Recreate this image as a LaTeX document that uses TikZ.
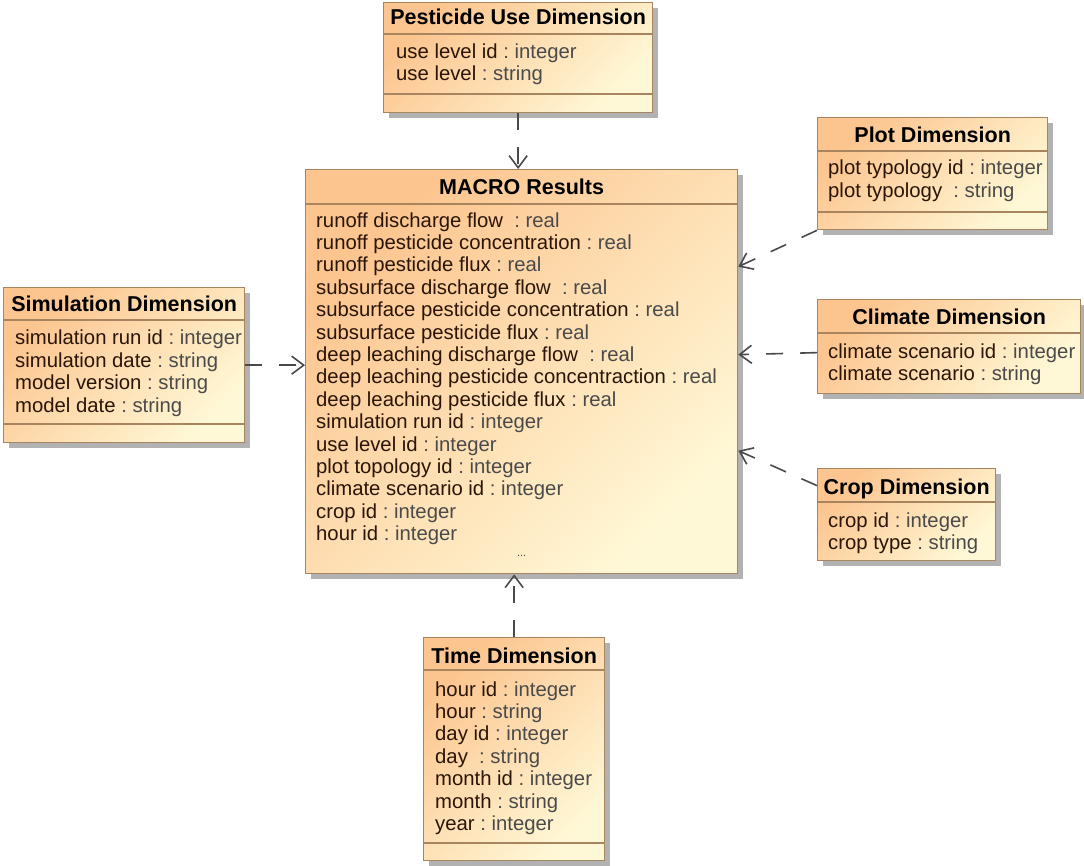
\documentclass[tikz,border=0pt]{standalone}
\usepackage{fontspec}
\setmainfont{Liberation Sans}
\usepackage{xcolor}
\usepackage{tikz}
\usetikzlibrary{positioning, arrows.meta, calc, shadows}

\definecolor{clsorange}{HTML}{FCC48E}
\definecolor{clspale}{HTML}{FFF8D6}
\definecolor{clsline}{HTML}{A8845F}
\definecolor{attrname}{HTML}{2A1508}
\definecolor{attrtype}{HTML}{4A4A4A}
\definecolor{linkgray}{HTML}{4A4A4A}

\newcommand{\attr}[2]{\textcolor{attrname}{#1} \textcolor{attrtype}{: #2}}
\frenchspacing

\begin{document}
\begin{tikzpicture}[x=1pt, y=-1pt, font=\fontsize{20.3}{22.4}\selectfont,
  cls/.style={draw=clsline, line width=1.3pt, top color=clsorange,
              bottom color=clspale, shading angle=45, anchor=north west,
              inner sep=0pt,
              drop shadow={shadow xshift=5pt, shadow yshift=-5pt,
                           fill=black!30, opacity=1}},
  ttl/.style={font=\fontsize{21.5}{22.4}\selectfont\bfseries, anchor=base, inner sep=0pt},
  attrs/.style={align=left, anchor=base west, inner sep=0pt},
  sep/.style={draw=clsline, line width=1.3pt},
  dep/.style={draw=linkgray, line width=1.6pt, dash pattern=on 17pt off 17pt,
              -{Straight Barb[length=12pt, width=18pt]}}]
\useasboundingbox (0,0) rectangle (1084,866);

% MACRO Results
\node[cls, minimum width=432pt, minimum height=404pt] (macro) at (305,169) {};
\node[ttl] (macroT) at ($(macro.north)+(0,26)$) {MACRO Results};
\draw[sep] ($(macro.north west)+(0,35)$) -- ($(macro.north east)+(0,35)$);
% anchored on the baseline of the last line
\node[attrs] (macroA) at ($(macro.north west)+(11,371.6)$) {%
  \attr{runoff discharge flow\ }{real}\\
  \attr{runoff pesticide concentration}{real}\\
  \attr{runoff pesticide flux}{real}\\
  \attr{subsurface discharge flow\ }{real}\\
  \attr{subsurface pesticide concentration}{real}\\
  \attr{subsurface pesticide flux}{real}\\
  \attr{deep leaching discharge flow\ }{real}\\
  \attr{deep leaching pesticide concentraction}{real}\\
  \attr{deep leaching pesticide flux}{real}\\
  \attr{simulation run id}{integer}\\
  \attr{use level id}{integer}\\
  \attr{plot topology id}{integer}\\
  \attr{climate scenario id}{integer}\\
  \attr{crop id}{integer}\\
  \attr{hour id}{integer}};
\node[font=\fontsize{11}{12}\selectfont, text=attrtype, inner sep=0pt] (macroE)
  at ($(macro.south)+(0,-18)$) {...};

% Pesticide Use Dimension
\node[cls, minimum width=269pt, minimum height=110pt] (pest) at (383,2) {};
\node[ttl] (pestT) at ($(pest.north)+(0,23)$) {Pesticide Use Dimension};
\draw[sep] ($(pest.north west)+(0,32)$) -- ($(pest.north east)+(0,32)$);
\draw[sep] ($(pest.north west)+(0,92)$) -- ($(pest.north east)+(0,92)$);
\node[attrs] (pestA) at ($(pest.north west)+(13,78.6)$) {%
  \attr{use level id}{integer}\\
  \attr{use level}{string}};

% Simulation Dimension
\node[cls, minimum width=241pt, minimum height=155pt] (sim) at (3,287) {};
\node[ttl] (simT) at ($(sim.north)+(0,25)$) {Simulation Dimension};
\draw[sep] ($(sim.north west)+(0,33)$) -- ($(sim.north east)+(0,33)$);
\draw[sep] ($(sim.north west)+(0,137)$) -- ($(sim.north east)+(0,137)$);
\node[attrs] (simA) at ($(sim.north west)+(12,125.2)$) {%
  \attr{simulation run id}{integer}\\
  \attr{simulation date}{string}\\
  \attr{model version}{string}\\
  \attr{model date}{string}};

% Plot Dimension
\node[cls, minimum width=230pt, minimum height=112pt] (plot) at (817,117) {};
\node[ttl] (plotT) at ($(plot.north)+(0,26)$) {Plot Dimension};
\draw[sep] ($(plot.north west)+(0,34)$) -- ($(plot.north east)+(0,34)$);
\draw[sep] ($(plot.north west)+(0,95)$) -- ($(plot.north east)+(0,95)$);
\node[attrs] (plotA) at ($(plot.north west)+(11,80.4)$) {%
  \attr{plot typology id}{integer}\\
  \attr{plot typology\ }{string}};

% Climate Dimension
\node[cls, minimum width=263pt, minimum height=94pt] (clim) at (817,299) {};
\node[ttl] (climT) at ($(clim.north)+(0,26)$) {Climate Dimension};
\draw[sep] ($(clim.north west)+(0,34)$) -- ($(clim.north east)+(0,34)$);
\node[attrs] (climA) at ($(clim.north west)+(11,81.4)$) {%
  \attr{climate scenario id}{integer}\\
  \attr{climate scenario}{string}};

% Crop Dimension
\node[cls, minimum width=178pt, minimum height=92pt] (crop) at (817,468) {};
\node[ttl] (cropT) at ($(crop.north)+(0,26)$) {Crop Dimension};
\draw[sep] ($(crop.north west)+(0,34)$) -- ($(crop.north east)+(0,34)$);
\node[attrs] (cropA) at ($(crop.north west)+(11,81.4)$) {%
  \attr{crop id}{integer}\\
  \attr{crop type}{string}};

% Time Dimension
\node[cls, minimum width=181pt, minimum height=223pt] (time) at (423,637) {};
\node[ttl] (timeT) at ($(time.north)+(0,26)$) {Time Dimension};
\draw[sep] ($(time.north west)+(0,33)$) -- ($(time.north east)+(0,33)$);
\draw[sep] ($(time.north west)+(0,206)$) -- ($(time.north east)+(0,206)$);
\node[attrs] (timeA) at ($(time.north west)+(12,193.4)$) {%
  \attr{hour id}{integer}\\
  \attr{hour}{string}\\
  \attr{day id}{integer}\\
  \attr{day\ }{string}\\
  \attr{month id}{integer}\\
  \attr{month}{string}\\
  \attr{year}{integer}};

% dependencies
\draw[dep] (pest.south) -- (pest.south |- macro.north);
\draw[dep] (sim.east) -- (sim.east -| macro.west);
\draw[dep] (plot.south west) -- ([yshift=105pt]macro.east);
\draw[dep] ([yshift=-6pt]clim.west) -- ([yshift=17pt]macro.east);
\draw[dep] ([yshift=29pt]crop.west) -- ([yshift=-79pt]macro.east);
\draw[dep] (time.north) -- (time.north |- macro.south);
\end{tikzpicture}
\end{document}
